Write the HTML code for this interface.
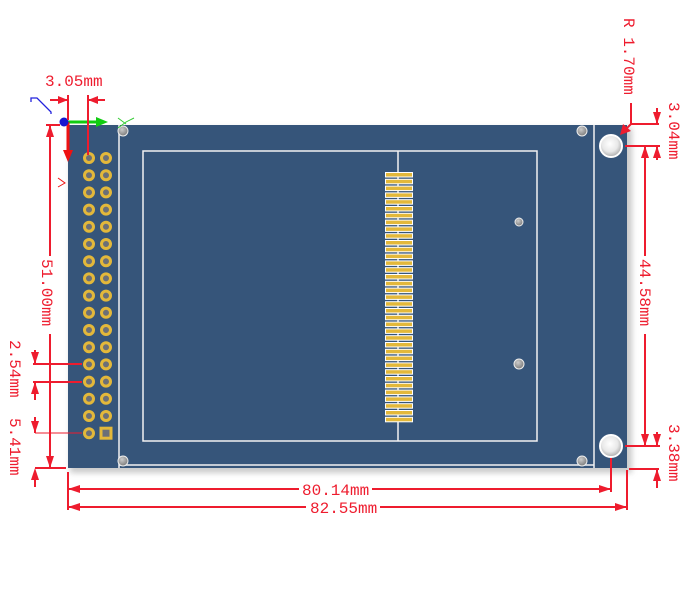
<!DOCTYPE html>
<html><head><meta charset="utf-8"><style>
html,body{margin:0;padding:0;background:#fff;width:695px;height:589px;overflow:hidden}
svg{display:block}
text{font-family:"Liberation Mono","DejaVu Sans Mono",monospace;font-size:16px;fill:#ee1c2e}
</style></head><body>
<svg width="695" height="589" viewBox="0 0 695 589" xmlns="http://www.w3.org/2000/svg">
<defs>
<filter id="sh" x="-10%" y="-10%" width="130%" height="130%"><feGaussianBlur stdDeviation="3"/></filter>
<radialGradient id="hole" cx="45%" cy="40%" r="60%"><stop offset="0" stop-color="#fff"/><stop offset="0.6" stop-color="#e8e8e8"/><stop offset="1" stop-color="#aaa"/></radialGradient>
<radialGradient id="sm" cx="40%" cy="35%" r="70%"><stop offset="0" stop-color="#ccc"/><stop offset="1" stop-color="#777"/></radialGradient>
</defs>
<rect x="70" y="128" width="562" height="345" fill="#999" opacity="0.5" filter="url(#sh)"/>
<rect x="68" y="125" width="559" height="343" fill="#36557a"/>
<g stroke="#f2f2f2" stroke-width="1.5" fill="none">
<line x1="119" y1="125" x2="119" y2="468"/>
<line x1="594" y1="125" x2="594" y2="468"/>
<line x1="119" y1="465" x2="594" y2="465"/>
<rect x="143" y="151" width="394" height="290"/>
<line x1="398" y1="151" x2="398" y2="441"/>
</g>
<g fill="#e3b83a" stroke="#fff" stroke-width="1">
<rect x="385.5" y="172.5" width="27" height="4.5"/><rect x="385.5" y="179.3" width="27" height="4.5"/><rect x="385.5" y="186.1" width="27" height="4.5"/><rect x="385.5" y="192.9" width="27" height="4.5"/><rect x="385.5" y="199.7" width="27" height="4.5"/><rect x="385.5" y="206.5" width="27" height="4.5"/><rect x="385.5" y="213.3" width="27" height="4.5"/><rect x="385.5" y="220.1" width="27" height="4.5"/><rect x="385.5" y="226.9" width="27" height="4.5"/><rect x="385.5" y="233.7" width="27" height="4.5"/><rect x="385.5" y="240.5" width="27" height="4.5"/><rect x="385.5" y="247.3" width="27" height="4.5"/><rect x="385.5" y="254.1" width="27" height="4.5"/><rect x="385.5" y="260.9" width="27" height="4.5"/><rect x="385.5" y="267.7" width="27" height="4.5"/><rect x="385.5" y="274.5" width="27" height="4.5"/><rect x="385.5" y="281.3" width="27" height="4.5"/><rect x="385.5" y="288.1" width="27" height="4.5"/><rect x="385.5" y="294.9" width="27" height="4.5"/><rect x="385.5" y="301.7" width="27" height="4.5"/><rect x="385.5" y="308.5" width="27" height="4.5"/><rect x="385.5" y="315.3" width="27" height="4.5"/><rect x="385.5" y="322.1" width="27" height="4.5"/><rect x="385.5" y="328.9" width="27" height="4.5"/><rect x="385.5" y="335.7" width="27" height="4.5"/><rect x="385.5" y="342.5" width="27" height="4.5"/><rect x="385.5" y="349.3" width="27" height="4.5"/><rect x="385.5" y="356.1" width="27" height="4.5"/><rect x="385.5" y="362.9" width="27" height="4.5"/><rect x="385.5" y="369.7" width="27" height="4.5"/><rect x="385.5" y="376.5" width="27" height="4.5"/><rect x="385.5" y="383.3" width="27" height="4.5"/><rect x="385.5" y="390.1" width="27" height="4.5"/><rect x="385.5" y="396.9" width="27" height="4.5"/><rect x="385.5" y="403.7" width="27" height="4.5"/><rect x="385.5" y="410.5" width="27" height="4.5"/><rect x="385.5" y="417.3" width="27" height="4.5"/>
</g>
<g fill="#6b6f78" stroke="#e3b83a" stroke-width="3">
<circle cx="89" cy="158" r="4.5"/><circle cx="106" cy="158" r="4.5"/>
<circle cx="89" cy="175.2" r="4.5"/><circle cx="106" cy="175.2" r="4.5"/>
<circle cx="89" cy="192.4" r="4.5"/><circle cx="106" cy="192.4" r="4.5"/>
<circle cx="89" cy="209.6" r="4.5"/><circle cx="106" cy="209.6" r="4.5"/>
<circle cx="89" cy="226.8" r="4.5"/><circle cx="106" cy="226.8" r="4.5"/>
<circle cx="89" cy="244" r="4.5"/><circle cx="106" cy="244" r="4.5"/>
<circle cx="89" cy="261.2" r="4.5"/><circle cx="106" cy="261.2" r="4.5"/>
<circle cx="89" cy="278.4" r="4.5"/><circle cx="106" cy="278.4" r="4.5"/>
<circle cx="89" cy="295.6" r="4.5"/><circle cx="106" cy="295.6" r="4.5"/>
<circle cx="89" cy="312.8" r="4.5"/><circle cx="106" cy="312.8" r="4.5"/>
<circle cx="89" cy="330" r="4.5"/><circle cx="106" cy="330" r="4.5"/>
<circle cx="89" cy="347.2" r="4.5"/><circle cx="106" cy="347.2" r="4.5"/>
<circle cx="89" cy="364.4" r="4.5"/><circle cx="106" cy="364.4" r="4.5"/>
<circle cx="89" cy="381.6" r="4.5"/><circle cx="106" cy="381.6" r="4.5"/>
<circle cx="89" cy="398.8" r="4.5"/><circle cx="106" cy="398.8" r="4.5"/>
<circle cx="89" cy="416" r="4.5"/><circle cx="106" cy="416" r="4.5"/>
<circle cx="89" cy="433.2" r="4.5"/>
<rect x="101" y="428.2" width="10" height="10"/>
</g>
<g stroke="#fff" stroke-width="2">
<circle cx="611" cy="146" r="11" fill="url(#hole)"/>
<circle cx="611" cy="446" r="11" fill="url(#hole)"/>
</g>
<g fill="url(#sm)" stroke="#eee" stroke-width="1">
<circle cx="123" cy="131" r="5"/><circle cx="582" cy="131" r="5"/>
<circle cx="123" cy="461" r="5"/><circle cx="582" cy="461" r="5"/>
<circle cx="519" cy="222" r="4"/><circle cx="519" cy="364" r="5"/>
</g>
<polyline points="118,128 126,122 134,118" stroke="#3c3" fill="none" stroke-width="1"/>
<polyline points="118,118 126,124" stroke="#3c3" fill="none" stroke-width="1"/>
<line x1="64" y1="122" x2="98" y2="122" stroke="#1c1" stroke-width="3"/>
<polygon points="96,117 108,122 96,127" fill="#1c1"/>
<line x1="68" y1="122" x2="68" y2="152" stroke="#e11" stroke-width="3"/>
<polygon points="63,150 68,162 73,150" fill="#e11"/>
<circle cx="64" cy="122" r="4.5" fill="#1616d0"/>
<polyline points="31,102 31,98 37,98 51,112 51,114" stroke="#22d" fill="none" stroke-width="1.3"/>
<polyline points="58,178 65,183 58,187" stroke="#e11" fill="none" stroke-width="1"/>
<g stroke="#ee1c2e" stroke-width="2" fill="none">
<line x1="50" y1="100" x2="68" y2="100"/><line x1="88" y1="100" x2="105" y2="100"/>
<line x1="68" y1="95" x2="68" y2="120"/><line x1="88" y1="95" x2="88" y2="155"/>
<line x1="50" y1="125" x2="50" y2="256"/><line x1="50" y1="334" x2="50" y2="468"/>
<line x1="46" y1="125" x2="60" y2="125"/>
<line x1="35" y1="468" x2="66" y2="468"/>
<line x1="33" y1="364" x2="82" y2="364"/><line x1="33" y1="382" x2="82" y2="382"/>
<line x1="35" y1="350" x2="35" y2="364"/><line x1="35" y1="382" x2="35" y2="400"/>
<line x1="35" y1="433" x2="82" y2="433" stroke-width="1"/>
<line x1="35" y1="417" x2="35" y2="433"/><line x1="35" y1="471" x2="35" y2="487"/>
<line x1="68" y1="472" x2="68" y2="510"/><line x1="611" y1="458" x2="611" y2="492"/><line x1="627" y1="470" x2="627" y2="510"/>
<line x1="68" y1="489" x2="299" y2="489"/><line x1="372" y1="489" x2="611" y2="489"/>
<line x1="68" y1="507" x2="306" y2="507"/><line x1="380" y1="507" x2="627" y2="507"/>
<line x1="645" y1="146" x2="645" y2="256"/><line x1="645" y1="334" x2="645" y2="446"/>
<line x1="625" y1="146" x2="660" y2="146"/><line x1="625" y1="446" x2="660" y2="446"/>
<line x1="631" y1="124" x2="659" y2="124"/><line x1="629" y1="469" x2="659" y2="469"/>
<line x1="657" y1="108" x2="657" y2="124"/><line x1="657" y1="146" x2="657" y2="160"/>
<line x1="657" y1="432" x2="657" y2="446"/><line x1="657" y1="469" x2="657" y2="488"/>
<line x1="631" y1="103" x2="631" y2="124"/><line x1="631" y1="124" x2="622" y2="133"/>
</g>
<g fill="#ee1c2e">
<polygon points="68,100 58,96 58,104"/><polygon points="88,100 98,96 98,104"/>
<polygon points="50,125 46,137 54,137"/><polygon points="50,468 46,456 54,456"/>
<polygon points="35,364 31,352 39,352"/><polygon points="35,382 31,394 39,394"/>
<polygon points="35,433 31,421 39,421"/><polygon points="35,468 31,480 39,480"/>
<polygon points="68,489 80,485 80,493"/><polygon points="611,489 599,485 599,493"/>
<polygon points="68,507 80,503 80,511"/><polygon points="627,507 615,503 615,511"/>
<polygon points="645,146 641,158 649,158"/><polygon points="645,446 641,434 649,434"/>
<polygon points="657,124 653,112 661,112"/><polygon points="657,146 653,158 661,158"/>
<polygon points="657,446 653,434 661,434"/><polygon points="657,469 653,481 661,481"/>
<polygon points="620,135 623,124 631,131"/>
</g>
<text x="45" y="86">3.05mm</text>
<text x="302" y="495">80.14mm</text>
<text x="310" y="513">82.55mm</text>
<text transform="translate(42,259) rotate(90)">51.00mm</text>
<text transform="translate(640,259) rotate(90)">44.58mm</text>
<text transform="translate(669,102) rotate(90)">3.04mm</text>
<text transform="translate(669,424) rotate(90)">3.38mm</text>
<text transform="translate(624,18) rotate(90)">R 1.70mm</text>
<text transform="translate(10,340) rotate(90)">2.54mm</text>
<text transform="translate(10,418) rotate(90)">5.41mm</text>
</svg>
</body></html>
